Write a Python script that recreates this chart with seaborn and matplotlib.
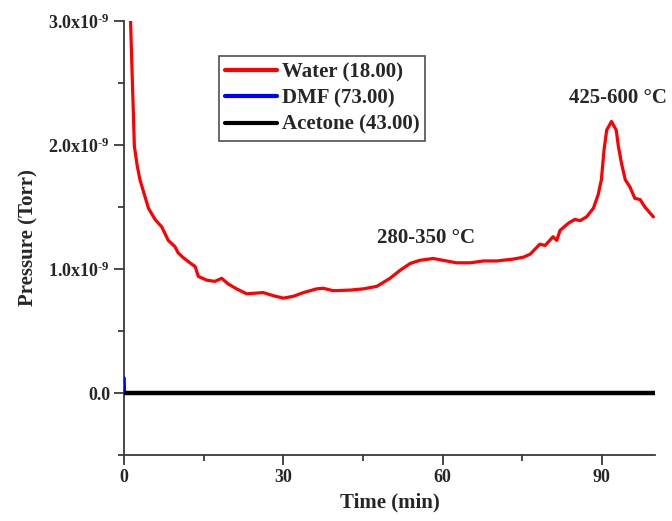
import numpy as np
import pandas as pd
import matplotlib
matplotlib.use("Agg")
import matplotlib.pyplot as plt
from matplotlib.ticker import FixedLocator, FuncFormatter
import seaborn as sns

# Water partial pressure trace (time in min, pressure in units of 1e-9 Torr)
water_time = [1.2, 1.57, 1.76, 1.95, 2.5, 3.0, 3.77, 4.6, 5.84, 7.1, 8.35, 9.6, 10.2,
              11.2, 12.4, 13.4, 14.0, 15.6, 17.1, 18.4, 19.6, 21.2, 23.1, 26.2, 28.1,
              30.0, 31.9, 33.8, 36.3, 37.5, 39.4, 42.6, 45.1, 47.6, 50.1, 52.0, 53.9,
              55.7, 58.2, 60.1, 62.6, 65.2, 67.7, 70.2, 73.3, 75.2, 76.5, 78.3, 79.3,
              80.8, 81.5, 82.1, 83.7, 84.9, 85.9, 87.1, 88.4, 89.3, 89.9, 90.4, 90.9,
              91.8, 92.7, 93.1, 93.7, 94.4, 95.3, 96.2, 97.2, 98.1, 99.1, 99.7]
water_p = [3.05, 2.52, 2.26, 1.99, 1.83, 1.72, 1.61, 1.49, 1.40, 1.34, 1.23, 1.18, 1.13,
           1.09, 1.05, 1.02, 0.94, 0.91, 0.90, 0.925, 0.88, 0.84, 0.80, 0.81, 0.785,
           0.765, 0.78, 0.81, 0.84, 0.845, 0.825, 0.83, 0.84, 0.86, 0.925, 0.99, 1.045,
           1.07, 1.085, 1.07, 1.05, 1.05, 1.065, 1.065, 1.08, 1.095, 1.12, 1.20, 1.19,
           1.26, 1.23, 1.31, 1.37, 1.40, 1.39, 1.42, 1.49, 1.60, 1.72, 1.96, 2.12,
           2.19, 2.12, 1.99, 1.85, 1.72, 1.66, 1.57, 1.56, 1.50, 1.45, 1.42]

dmf_time = [0.0, 0.05, 100.0]
dmf_p = [0.12, 0.0, 0.0]

acetone_time = [0.0, 100.0]
acetone_p = [0.0, 0.0]

series_names = ["Water (18.00)", "DMF (73.00)", "Acetone (43.00)"]
series_colors = ["#ff0000", "#0000ff", "#000000"]

x_major = [0, 30, 60, 90]
x_minor = [15, 45, 75]
y_major = [0.0, 1.0, 2.0, 3.0]
y_minor = [-0.5, 0.5, 1.5, 2.5]

scale = 1e-9
frames = []
for name, t, p in zip(series_names,
                      [water_time, dmf_time, acetone_time],
                      [water_p, dmf_p, acetone_p]):
    frames.append(pd.DataFrame({"Time": t, "Pressure": np.array(p) * scale, "Gas": name}))
df = pd.concat(frames, ignore_index=True)

sns.set_theme(style="white")
plt.rcParams["font.family"] = ["Liberation Serif", "DejaVu Serif"]
plt.rcParams["font.weight"] = "bold"
plt.rcParams["mathtext.fontset"] = "custom"
plt.rcParams["mathtext.rm"] = "Liberation Serif:bold"
plt.rcParams["mathtext.bf"] = "Liberation Serif:bold"
plt.rcParams["mathtext.default"] = "bf"

fig = plt.figure(figsize=(6.72, 5.21), dpi=100)
ax = fig.add_axes([124 / 672, 1 - 455 / 521, (655 - 124) / 672, (455 - 21) / 521])

for name, color, lw, z in zip(series_names, series_colors, [2.3, 2.6, 3.2], [3, 3.1, 3.2]):
    sns.lineplot(data=df[df["Gas"] == name], x="Time", y="Pressure", ax=ax,
                 color=color, lw=lw, label=name, estimator=None, sort=False,
                 zorder=z)

ax.set_xlim(0, 100)
ax.set_ylim(-0.5e-9, 3.0e-9)

ax.xaxis.set_major_locator(FixedLocator(x_major))
ax.xaxis.set_minor_locator(FixedLocator(x_minor))
ax.yaxis.set_major_locator(FixedLocator([v * scale for v in y_major]))
ax.yaxis.set_minor_locator(FixedLocator([v * scale for v in y_minor]))


def fmt_pressure(v, pos):
    m = v / scale
    if abs(m) < 1e-6:
        return "0.0"
    return f"{m:.1f}x10$^{{\\text{{-9}}}}$"


ax.yaxis.set_major_formatter(FuncFormatter(fmt_pressure))

spine_color = "#3a3a3a"
for side in ["top", "right"]:
    ax.spines[side].set_visible(False)
for side in ["left", "bottom"]:
    ax.spines[side].set_color(spine_color)
    ax.spines[side].set_linewidth(1.3)

ax.tick_params(axis="both", which="major", direction="out", length=7, width=1.3,
               color=spine_color, labelsize=13, pad=3, bottom=True, left=True)
ax.tick_params(axis="both", which="minor", direction="out", length=4, width=1.3,
               color=spine_color, bottom=True, left=True)
for lab in ax.get_xticklabels() + ax.get_yticklabels():
    lab.set_fontweight("bold")

ax.set_xlabel("Time (min)", fontsize=15, fontweight="bold", labelpad=5)
ax.set_ylabel("Pressure (Torr)", fontsize=15, fontweight="bold", labelpad=7)

ax.text(56.9, 1.25e-9, "280-350 °C", fontsize=15, fontweight="bold",
        ha="center", va="center")
ax.text(93.0, 2.38e-9, "425-600 °C", fontsize=15, fontweight="bold",
        ha="center", va="center")

leg = ax.legend(loc="upper left", bbox_to_anchor=(0.179, 0.919), borderaxespad=0,
                fontsize=15, frameon=True, fancybox=False, handlelength=2.5,
                handletextpad=0.2, borderpad=0.3, labelspacing=0.3)
leg.get_frame().set_edgecolor("#222222")
leg.get_frame().set_linewidth(1.2)
leg.set_zorder(5)
for txt in leg.get_texts():
    txt.set_fontweight("bold")
for h in leg.get_lines():
    h.set_linewidth(3.0)

fig.savefig("out.png", dpi=100)
